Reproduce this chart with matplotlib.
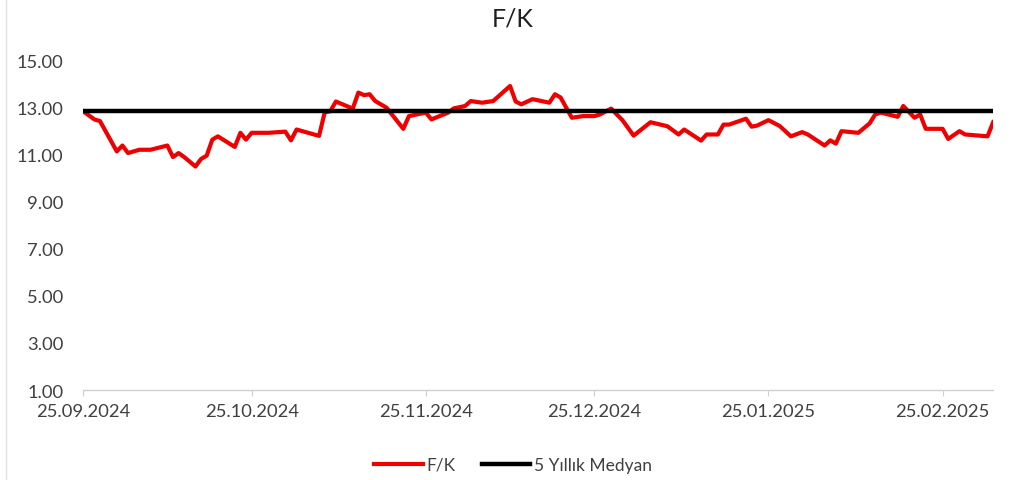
import matplotlib

matplotlib.use("Agg")
import matplotlib.pyplot as plt
import matplotlib.dates as mdates
from matplotlib.lines import Line2D
import pandas as pd

# F/K günlük değerler (grafikten okunan kırılma noktaları)
dates = [
    "25.09.2024", "27.09.2024", "28.09.2024", "01.10.2024", "02.10.2024", "03.10.2024",
    "05.10.2024", "07.10.2024", "10.10.2024", "11.10.2024", "12.10.2024", "13.10.2024",
    "15.10.2024", "16.10.2024", "17.10.2024", "18.10.2024", "19.10.2024", "22.10.2024",
    "23.10.2024", "24.10.2024", "25.10.2024", "28.10.2024", "31.10.2024", "01.11.2024",
    "02.11.2024", "06.11.2024", "07.11.2024", "08.11.2024", "09.11.2024", "12.11.2024",
    "13.11.2024", "14.11.2024", "15.11.2024", "16.11.2024", "18.11.2024", "21.11.2024",
    "22.11.2024", "25.11.2024", "26.11.2024", "29.11.2024", "30.11.2024", "02.12.2024",
    "03.12.2024", "05.12.2024", "07.12.2024", "10.12.2024", "11.12.2024", "12.12.2024",
    "14.12.2024", "17.12.2024", "18.12.2024", "19.12.2024", "21.12.2024", "23.12.2024",
    "25.12.2024", "26.12.2024", "28.12.2024", "29.12.2024", "30.12.2024", "01.01.2025",
    "04.01.2025", "07.01.2025", "09.01.2025", "10.01.2025", "13.01.2025", "14.01.2025",
    "16.01.2025", "17.01.2025", "18.01.2025", "21.01.2025", "22.01.2025", "23.01.2025",
    "25.01.2025", "27.01.2025", "29.01.2025", "31.01.2025", "01.02.2025", "04.02.2025",
    "05.02.2025", "06.02.2025", "07.02.2025", "10.02.2025", "12.02.2025", "13.02.2025",
    "14.02.2025", "17.02.2025", "18.02.2025", "20.02.2025", "21.02.2025", "22.02.2025",
    "25.02.2025", "26.02.2025", "28.02.2025", "01.03.2025", "05.03.2025", "06.03.2025",
]
fk = [
    12.85, 12.50, 12.43, 11.14, 11.39, 11.07,
    11.21, 11.21, 11.39, 10.90, 11.07, 10.90,
    10.50, 10.82, 10.96, 11.64, 11.78, 11.33,
    11.93, 11.64, 11.93, 11.93, 11.98, 11.61,
    12.07, 11.80, 12.79, 12.85, 13.26, 12.96,
    13.64, 13.53, 13.57, 13.28, 13.00, 12.10,
    12.64, 12.79, 12.50, 12.79, 12.97, 13.07,
    13.28, 13.21, 13.28, 13.92, 13.26, 13.14,
    13.36, 13.21, 13.57, 13.43, 12.57, 12.64,
    12.64, 12.71, 12.96, 12.71, 12.47, 11.81,
    12.38, 12.21, 11.86, 12.07, 11.60, 11.86,
    11.86, 12.28, 12.28, 12.53, 12.19, 12.24,
    12.47, 12.22, 11.78, 11.96, 11.86, 11.39,
    11.61, 11.47, 12.00, 11.93, 12.33, 12.71,
    12.79, 12.61, 13.07, 12.57, 12.71, 12.10,
    12.10, 11.67, 12.00, 11.86, 11.78, 12.38,
]
median_5y = 12.87

x_ticks = ["25.09.2024", "25.10.2024", "25.11.2024", "25.12.2024", "25.01.2025", "25.02.2025"]
y_ticks = [1, 3, 5, 7, 9, 11, 13, 15]

x = pd.to_datetime(dates, format="%d.%m.%Y")
xt = pd.to_datetime(x_ticks, format="%d.%m.%Y")

plt.rcParams["font.family"] = ["Lato", "DejaVu Sans"]
text_color = "#404040"

fig = plt.figure(figsize=(10.26, 4.81), dpi=100)
ax = fig.add_axes([0.081, 0.187, 0.887, 0.685])

ax.plot(x, fk, color="#f00000", lw=3, label="F/K", solid_joinstyle="round")
ax.plot([x[0], x[-1]], [median_5y, median_5y], color="black", lw=3.2, label="5 Yıllık Medyan")

ax.set_xlim(x[0], x[-1])
ax.set_ylim(1, 15)
ax.set_yticks(y_ticks)
ax.set_yticklabels([f"{v:.2f}" for v in y_ticks])
ax.set_xticks(xt)
ax.xaxis.set_major_formatter(mdates.DateFormatter("%d.%m.%Y"))

for s in ["top", "right", "left"]:
    ax.spines[s].set_visible(False)
ax.spines["bottom"].set_color("#d0d0d0")
ax.spines["bottom"].set_linewidth(1)
ax.tick_params(axis="y", length=0, pad=14, labelsize=13.2, labelcolor=text_color)
ax.tick_params(axis="x", length=4, color="#d0d0d0", pad=5, labelsize=13.2, labelcolor=text_color)

fig.suptitle("F/K", x=0.5, y=0.985, fontsize=18, color="#202020")
fig.legend(loc="center", bbox_to_anchor=(0.5, 0.032), ncol=2, frameon=False,
           fontsize=12.5, handlelength=2.8, handletextpad=0.2, columnspacing=1.5,
           labelcolor=text_color)

fig.add_artist(Line2D([0.006, 0.006], [0.0, 1.0], color="#e0e0e0", lw=1))

fig.savefig("out.png", dpi=100)
plt.close(fig)
